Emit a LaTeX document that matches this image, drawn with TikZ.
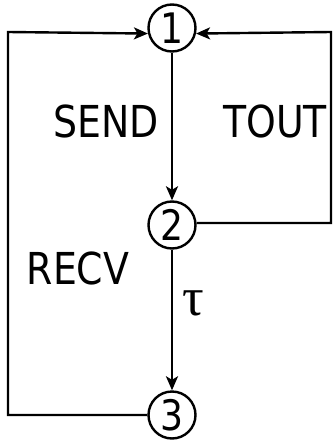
\documentclass[tikz,border=0pt]{standalone}
\usepackage{fontspec}
\setmainfont{DejaVu Sans}[FakeStretch=0.86]
\newfontfamily\taufont{Liberation Serif}
\usetikzlibrary{arrows.meta}
\begin{document}
\begin{tikzpicture}[x=1pt,y=-1pt,
  line width=2.4pt,
  st/.style={circle,draw,minimum size=47pt,inner sep=0pt,font=\fontsize{42}{42}\selectfont},
  lbl/.style={font=\fontsize{44}{44}\selectfont,inner sep=0pt},
  arr/.style={-{Stealth[length=14pt,width=12pt,inset=3.5pt]}}]
\useasboundingbox (0,0) rectangle (333,441);
\node[st] (n1) at (172,28) {1};
\node[st] (n2) at (172,225) {2};
\node[st] (n3) at (172,415) {3};
\coordinate (r1) at (331,223);
\coordinate (r2) at (331,32);
\coordinate (l1) at (8,415);
\coordinate (l2) at (8,32);
\draw[arr] (n1) -- (n2);
\draw[arr] (n2) -- (n3);
\draw[arr] (n2.east |- r1) -- (r1) -- (r2) -- (n1.347);
\draw[arr] (n3.west) -- (l1) -- (l2) -- (n1.193);
\node[lbl] (send) at (106,121) {SEND};
\node[lbl] (tout) at (275,121) {TOUT};
\node[lbl] (recv) at (78,268) {RECV};
\node[inner sep=0pt,font=\taufont\fontsize{54}{54}\selectfont] (tau) at (193,303) {τ};
\end{tikzpicture}
\end{document}
